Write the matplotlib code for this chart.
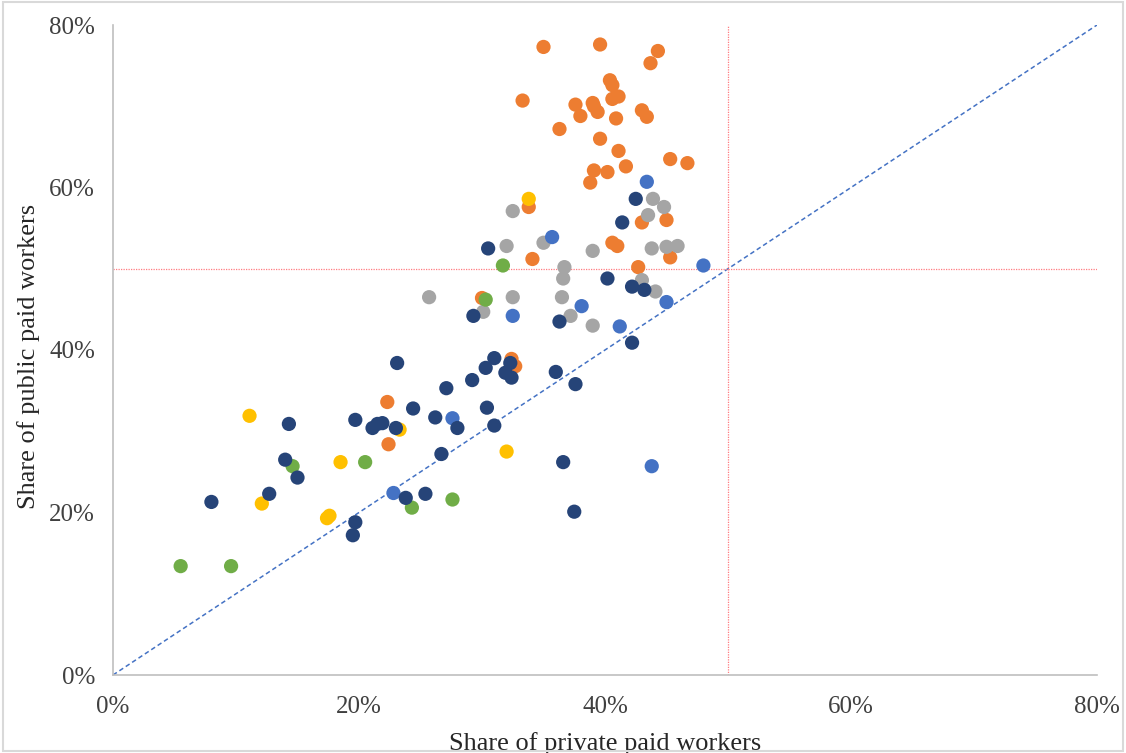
import matplotlib.pyplot as plt
from matplotlib.ticker import PercentFormatter
from matplotlib.patches import Rectangle

# values, in percent (private, public)
orange_x = [35.0, 39.6, 44.3, 43.7, 40.4, 40.6, 33.3, 37.6, 38.0, 39.0, 39.4, 39.1, 40.6, 41.1,
            40.9, 43.0, 43.4, 36.3, 39.6, 41.1, 41.7, 45.3, 46.7, 39.1, 40.2, 38.8, 43.0, 45.0,
            40.6, 41.0, 45.3, 42.7, 33.8, 34.1, 30.0, 22.3, 22.4, 32.4, 32.7]
orange_y = [77.3, 77.6, 76.8, 75.3, 73.2, 72.6, 70.7, 70.2, 68.8, 70.4, 69.3, 70.0, 70.9, 71.2,
            68.5, 69.5, 68.7, 67.2, 66.0, 64.5, 62.6, 63.5, 63.0, 62.1, 61.9, 60.6, 55.7, 56.0,
            53.2, 52.8, 51.4, 50.2, 57.6, 51.2, 46.4, 33.6, 28.4, 38.9, 38.0]

gray_x = [32.5, 32.0, 35.0, 36.7, 36.6, 25.7, 32.5, 36.5, 30.1, 37.2, 43.9, 44.8, 43.5, 39.0,
          43.8, 45.0, 45.9, 43.0, 44.1, 39.0]
gray_y = [57.1, 52.8, 53.2, 50.2, 48.8, 46.5, 46.5, 46.5, 44.7, 44.2, 58.6, 57.6, 56.6, 52.2,
          52.5, 52.7, 52.8, 48.6, 47.2, 43.0]

yellow_x = [33.8, 11.1, 23.3, 18.5, 12.1, 17.4, 17.6, 32.0]
yellow_y = [58.6, 31.9, 30.2, 26.2, 21.1, 19.3, 19.6, 27.5]

blue_x = [43.4, 35.7, 48.0, 38.1, 45.0, 41.2, 32.5, 27.6, 43.8, 22.8]
blue_y = [60.7, 53.9, 50.4, 45.4, 45.9, 42.9, 44.2, 31.6, 25.7, 22.4]

green_x = [31.7, 30.3, 14.6, 20.5, 24.3, 27.6, 5.5, 9.6]
green_y = [50.4, 46.2, 25.7, 26.2, 20.6, 21.6, 13.4, 13.4]

navy_x = [30.5, 29.3, 36.3, 23.1, 42.5, 41.4, 40.2, 42.2, 43.2, 42.2, 27.1, 29.2, 30.3, 31.0,
          32.3, 31.9, 32.4, 36.0, 37.6, 24.4, 26.2, 30.4, 28.0, 31.0, 23.0, 21.9, 26.7, 36.6,
          23.8, 25.4, 37.5, 19.7, 21.5, 21.1, 14.3, 14.0, 15.0, 12.7, 8.0, 19.7, 19.5]
navy_y = [52.5, 44.2, 43.5, 38.4, 58.6, 55.7, 48.8, 47.8, 47.4, 40.9, 35.3, 36.3, 37.8, 39.0,
          38.4, 37.2, 36.6, 37.3, 35.8, 32.8, 31.7, 32.9, 30.4, 30.7, 30.4, 31.0, 27.2, 26.2,
          21.8, 22.3, 20.1, 31.4, 30.9, 30.4, 30.9, 26.5, 24.3, 22.3, 21.3, 18.8, 17.2]

series = [
    (orange_x, orange_y, '#ED7D31'),
    (gray_x, gray_y, '#A5A5A5'),
    (yellow_x, yellow_y, '#FFC000'),
    (blue_x, blue_y, '#4472C4'),
    (green_x, green_y, '#70AD47'),
    (navy_x, navy_y, '#264478'),
]

plt.rcParams['font.family'] = ['Liberation Serif', 'DejaVu Serif']

fig = plt.figure(figsize=(11.26, 7.53), dpi=100)
ax = fig.add_axes([113 / 1126, 78 / 753, 984 / 1126, 650 / 753])

# reference lines
ax.plot([0, 80], [0, 80], color='#4472C4', lw=1.1, ls=(0, (3, 2)), zorder=1)
ax.plot([0, 80], [50, 50], color='#FF7C80', lw=0.9, ls=(0, (1, 1)), zorder=1)
ax.plot([50, 50], [0, 80], color='#FF7C80', lw=0.9, ls=(0, (1, 1)), zorder=1)

for xs, ys, c in series:
    ax.scatter(xs, ys, s=105, color=c, edgecolors='none', zorder=3)

ax.set_xlim(0, 80)
ax.set_ylim(0, 80)
ax.set_xticks([0, 20, 40, 60, 80])
ax.set_yticks([0, 20, 40, 60, 80])
ax.xaxis.set_major_formatter(PercentFormatter(decimals=0))
ax.yaxis.set_major_formatter(PercentFormatter(decimals=0))
ax.tick_params(length=0, labelsize=18, colors='#404040')
ax.tick_params(axis='x', pad=15)
ax.tick_params(axis='y', pad=13)

for side in ['top', 'right']:
    ax.spines[side].set_visible(False)
for side in ['left', 'bottom']:
    ax.spines[side].set_color('#BFBFBF')
    ax.spines[side].set_linewidth(1.2)

ax.set_xlabel('Share of private paid workers', fontsize=19, color='#262626')
ax.set_ylabel('Share of public paid workers', fontsize=19, color='#262626')
ax.xaxis.set_label_coords(0.5, -0.087)
ax.yaxis.set_label_coords(-0.074, 0.49)

fig.patches.append(Rectangle((0.003, 0.003), 0.994, 0.994, transform=fig.transFigure,
                             fill=False, edgecolor='#D9D9D9', lw=1.5))

fig.savefig('out.png', dpi=100)
